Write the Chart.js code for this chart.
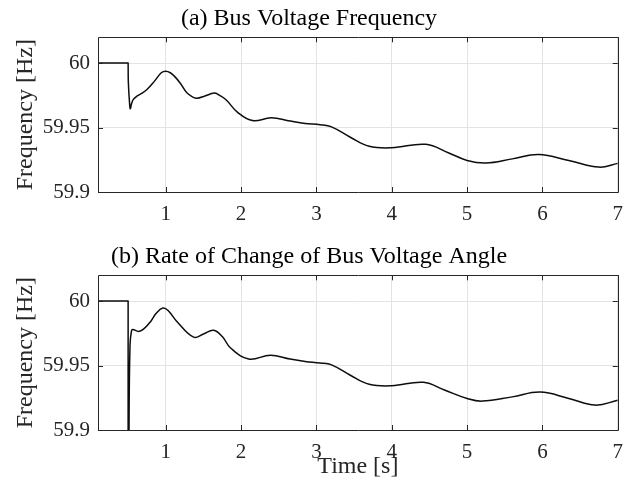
<!DOCTYPE html>
<html>
<head>
<meta charset="utf-8">
<script src="https://cdn.jsdelivr.net/npm/chart.js@4.4.0/dist/chart.umd.min.js"></script>
<style>
  body { margin: 0; background: #fff; }
  canvas { position: absolute; left: 0; }
  #top { top: 0; }
  #bottom { top: 238px; }
</style>
</head>
<body>
<canvas id="top" width="633" height="238"></canvas>
<canvas id="bottom" width="633" height="255"></canvas>
<script>
// time [s]
const timeA = [0.1, 0.499, 0.5, 0.503, 0.52, 0.53, 0.545, 0.572, 0.62, 0.68, 0.75, 0.85, 0.94, 1.0, 1.06, 1.12, 1.2, 1.28, 1.4, 1.52, 1.59, 1.65, 1.72, 1.8, 1.95, 2.15, 2.4, 2.65, 2.85, 3.05, 3.2, 3.45, 3.7, 4.0, 4.45, 4.75, 5.0, 5.25, 5.6, 5.95, 6.35, 6.75, 7.0];
// (a) bus voltage frequency [Hz]
const freqA = [60, 60, 60, 59.985, 59.968, 59.9645, 59.9685, 59.972, 59.9745, 59.9765, 59.9795, 59.986, 59.9925, 59.9937, 59.9925, 59.9895, 59.9838, 59.977, 59.9728, 59.9745, 59.976, 59.9768, 59.9748, 59.9715, 59.962, 59.9554, 59.9575, 59.955, 59.9532, 59.9522, 59.9505, 59.9425, 59.9355, 59.9343, 59.937, 59.9305, 59.9245, 59.9225, 59.9257, 59.929, 59.9245, 59.9193, 59.9222];

const timeB = [0.1, 0.499, 0.5, 0.5005, 0.512, 0.525, 0.545, 0.56, 0.64, 0.7, 0.8, 0.87, 0.96, 1.03, 1.15, 1.37, 1.5, 1.635, 1.75, 1.86, 2.1, 2.39, 2.65, 2.85, 3.05, 3.2, 3.45, 3.7, 4.0, 4.42, 4.7, 5.0, 5.2, 5.6, 5.97, 6.35, 6.7, 7.0];
// (b) rate of change of bus voltage angle [Hz]
const freqB = [60, 60, 60, 59.6, 59.9, 59.966, 59.977, 59.978, 59.9765, 59.978, 59.9842, 59.9903, 59.9946, 59.9927, 59.984, 59.972, 59.9745, 59.9773, 59.9725, 59.9636, 59.9551, 59.958, 59.955, 59.9532, 59.952, 59.9505, 59.9425, 59.9355, 59.9343, 59.937, 59.931, 59.9245, 59.9224, 59.9257, 59.9294, 59.9245, 59.9193, 59.923];

const xTicks = [1, 2, 3, 4, 5, 6, 7];
const yTicks = [59.9, 59.95, 60];

const serif = "'Liberation Serif', 'Times New Roman', serif";
const axisColor = '#262626';

// MATLAB-like box with inward ticks on all four sides
const boxPlugin = {
  id: 'box',
  afterDatasetsDraw(chart) {
    const {ctx, chartArea: a, scales: {x, y}} = chart;
    ctx.save();
    ctx.strokeStyle = axisColor;
    ctx.lineWidth = 1;
    ctx.beginPath();
    ctx.rect(Math.round(a.left) + 0.5, Math.round(a.top) + 0.5,
             Math.round(a.right - a.left), Math.round(a.bottom - a.top));
    x.ticks.forEach(t => {
      const px = Math.round(x.getPixelForValue(t.value)) + 0.5;
      ctx.moveTo(px, a.bottom); ctx.lineTo(px, a.bottom - 5);
      ctx.moveTo(px, a.top); ctx.lineTo(px, a.top + 5);
    });
    y.ticks.forEach(t => {
      const py = Math.round(y.getPixelForValue(t.value)) + 0.5;
      ctx.moveTo(a.left, py); ctx.lineTo(a.left + 5, py);
      ctx.moveTo(a.right, py); ctx.lineTo(a.right - 5, py);
    });
    ctx.stroke();
    ctx.restore();
  }
};

function makeChart(id, title, xs, ys, showXTitle) {
  const canvas = document.getElementById(id);
  new Chart(canvas, {
    type: 'line',
    data: {
      datasets: [{
        data: xs.map((t, i) => ({x: t, y: ys[i]})),
        borderColor: '#0d0d0d',
        borderWidth: 1.5,
        pointRadius: 0,
        tension: 0.4,
        clip: 0
      }]
    },
    options: {
      responsive: false,
      animation: false,
      devicePixelRatio: 1,
      layout: {padding: {left: 0, right: 15, top: 0, bottom: 0}},
      plugins: {
        legend: {display: false},
        tooltip: {enabled: false},
        title: {
          display: true,
          text: title,
          color: '#000',
          font: {family: serif, size: 24, weight: 'normal', lineHeight: 1.2},
          padding: {top: 4.6, bottom: 3.9}
        }
      },
      scales: {
        x: {
          type: 'linear',
          min: 0.1,
          max: 7,
          afterBuildTicks: s => { s.ticks = xTicks.map(v => ({value: v})); },
          afterFit: s => { s.height = showXTitle ? 63 : 46; },
          grid: {color: '#e3e3e3', drawTicks: false},
          border: {display: false},
          ticks: {
            color: axisColor,
            padding: 10,
            maxRotation: 0,
            font: {family: serif, size: 21},
            callback: v => String(v)
          },
          title: {
            display: showXTitle,
            text: 'Time [s]',
            color: axisColor,
            font: {family: serif, size: 24, lineHeight: 1.2},
            padding: {top: 0, bottom: 11.6}
          }
        },
        y: {
          min: 59.9,
          max: 60.02,
          afterBuildTicks: s => { s.ticks = yTicks.map(v => ({value: v})); },
          afterFit: s => { s.width = 98; },
          grid: {color: '#e3e3e3', drawTicks: false},
          border: {display: false},
          ticks: {
            color: axisColor,
            padding: 8,
            font: {family: serif, size: 21},
            callback: v => String(v)
          },
          title: {
            display: true,
            text: 'Frequency [Hz]',
            color: axisColor,
            font: {family: serif, size: 24, lineHeight: 1.2},
            padding: {top: 11.6, bottom: 0}
          }
        }
      }
    },
    plugins: [boxPlugin]
  });
}

makeChart('top', '(a) Bus Voltage Frequency', timeA, freqA, false);
makeChart('bottom', '(b) Rate of Change of Bus Voltage Angle', timeB, freqB, true);
</script>
</body>
</html>
